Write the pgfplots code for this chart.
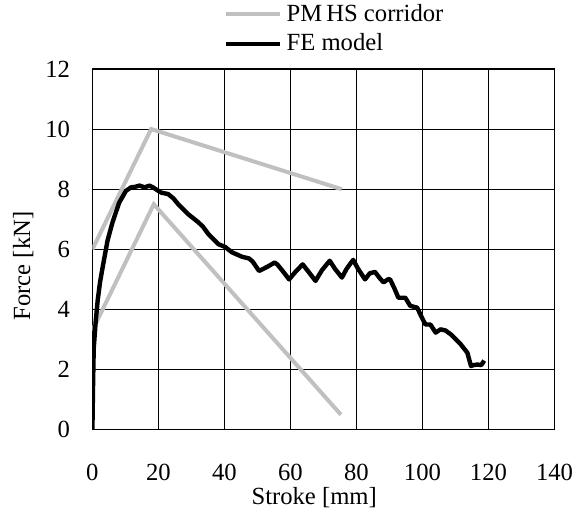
\documentclass[border=0pt]{standalone}
\usepackage{pgfplots}
\pgfplotsset{compat=1.18}
\usepackage{fontspec}
\setmainfont{Liberation Serif}
\definecolor{corr}{RGB}{192,192,192}
\begin{document}
\fontsize{12}{14}\selectfont
\begin{tikzpicture}
\begin{axis}[
  scale only axis,
  width=230.5pt, height=180pt,
  xmin=0, xmax=140, ymin=0, ymax=12,
  xtick={0,20,...,140}, ytick={0,2,...,12},
  grid=major,
  grid style={black, line width=0.5pt},
  axis line style={black, line width=0.7pt},
  major tick length=0pt,
  /pgf/number format/assume math mode=true,
  tick label style={font=\fontsize{12.3}{14}\selectfont},
  xticklabel style={inner sep=1.5pt, yshift=-15.5pt},
  yticklabel style={xshift=-7pt},
  xlabel={Stroke [mm]},
  ylabel={Force [kN]},
  label style={font=\fontsize{12.3}{14}\selectfont},
  xlabel style={at={([yshift=-34pt]axis description cs:0.48,0)}, anchor=center, inner sep=1pt},
  ylabel style={at={([xshift=-34.5pt]axis description cs:0,0.454)}, anchor=center, rotate=0, inner sep=6.5pt},
  legend style={draw=none, fill=none, font=\fontsize{12.3}{14}\selectfont,
    at={([yshift=5pt]axis description cs:0.284,1)}, anchor=south west,
    inner sep=0pt, row sep=0.5pt, cells={anchor=west}},
  legend cell align=left,
  legend image code/.code={\draw[#1] (0pt,0pt) -- (27pt,0pt);},
]
\addplot[corr, line width=2pt, forget plot] coordinates {(0,3.3) (18.6,7.5) (75.3,0.5)};
\addplot[corr, line width=2pt] coordinates {(0,6) (17.8,10) (75.5,8)};
\addlegendentry{PM\,HS corridor}
\addplot[black, line width=2.2pt, line join=round] coordinates {
(0,0) (0.2,1.5) (0.4,2.7) (1.0,3.6) (1.6,4.3) (2.3,4.9) (3.1,5.4) (4.6,6.3) (6.1,6.9)
(8.1,7.55) (10.2,7.95) (11.7,8.06) (13,8.08) (14.3,8.12) (15.8,8.06) (17.3,8.12)
(18.5,8.05) (19.9,7.95) (21,7.88) (22.9,7.84) (24.5,7.7) (26,7.5) (29,7.17) (32.1,6.9)
(33.5,6.75) (35.2,6.5) (38.2,6.17) (40.2,6.08) (42.3,5.9) (45.4,5.75) (47.4,5.7)
(48.5,5.6) (50.5,5.28) (53,5.42) (55.2,5.56) (56,5.5) (57.5,5.3) (59.6,5.0) (61.5,5.25)
(63.7,5.5) (65.5,5.25) (67.6,4.95) (69.5,5.3) (71.9,5.62) (73.5,5.35) (75.6,5.06)
(77,5.35) (79,5.65) (80.5,5.35) (82.6,5.0) (84,5.2) (85.6,5.25) (87,5.05) (88.2,4.9)
(89.5,5.0) (90.2,5.0) (91.5,4.7) (92.7,4.39) (94.8,4.39) (96.3,4.12) (98.4,4.06)
(99.5,3.8) (100.9,3.5) (102.4,3.5) (104,3.23) (105.5,3.34) (107,3.3) (108.6,3.17)
(110.2,3.0) (111.6,2.84) (113.6,2.56) (114.7,2.12) (115.5,2.15) (116.7,2.17)
(117.8,2.15) (118.7,2.3)};
\addlegendentry{FE model}
\end{axis}
\end{tikzpicture}
\end{document}
